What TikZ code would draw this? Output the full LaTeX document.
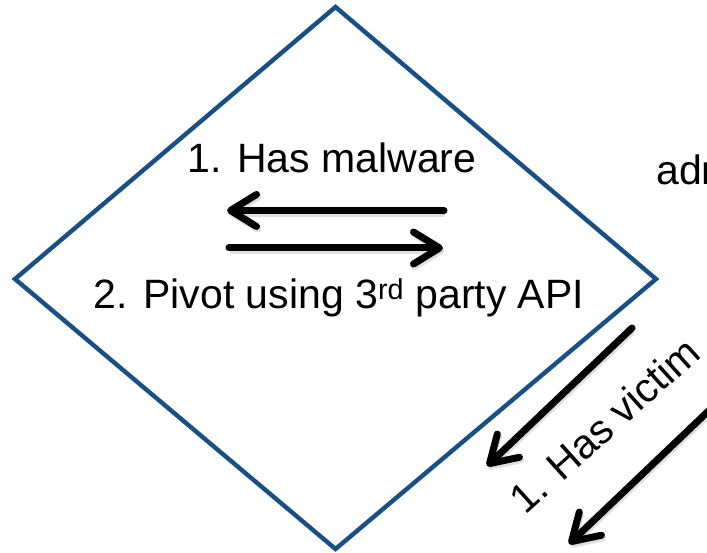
\documentclass[tikz,border=0pt]{standalone}
\usepackage{fontspec}
\setmainfont{Liberation Sans}
\usetikzlibrary{arrows.meta}

\definecolor{edgeblue}{RGB}{23,79,134}

\tikzset{
  frame/.style={draw=edgeblue, line width=4.4pt, line join=miter},
  flow/.style={draw=black, line width=7pt, line cap=round,
    -{Straight Barb[length=26pt, width=32pt, round]},
    preaction={draw=black!35, opacity=0.35, line width=7pt,
      transform canvas={shift={(1.2pt,-2.6pt)}}}},
  label/.style={font=\fontsize{41}{48}\selectfont, inner sep=0pt, text=black}
}

\begin{document}
\begin{tikzpicture}[x=1pt, y=-1pt]
  \useasboundingbox (0,0) rectangle (707,553);
  \clip (0,0) rectangle (707,553);

  % diamond corners
  \coordinate (dT) at (335.5,7);
  \coordinate (dR) at (656,279);
  \coordinate (dB) at (335.5,549);
  \coordinate (dL) at (15,279);
  \draw[frame] (dT) -- (dR) -- (dB) -- (dL) -- cycle;

  % labels inside the diamond
  \node[label, anchor=base] (malware) at (332,173) {1. Has malware};
  \node[label, anchor=base] (pivot) at (339,309) {2. Pivot using 3\textsuperscript{rd} party API};

  % pair of horizontal arrows
  \coordinate (upTail) at (444,210.5);
  \coordinate (upTip) at (227,210.5);
  \coordinate (loTail) at (229,248);
  \coordinate (loTip) at (443,248);
  \draw[flow] (upTail) -- (upTip);
  \draw[flow] (loTail) -- (loTip);

  % text at the right edge
  \node[label, anchor=base west] (adr) at (656,185) {adr};

  % diagonal arrows with their label
  \coordinate (d1Tail) at (632,328);
  \coordinate (d1Tip) at (487,466);
  \coordinate (d2Tail) at (720,400);
  \coordinate (d2Tip) at (569,544);
  \draw[flow] (d1Tail) -- (d1Tip);
  \draw[flow] (d2Tail) -- (d2Tip);
  \node[label, anchor=base, rotate=42] (victim) at (614,436) {1. Has victim};
\end{tikzpicture}
\end{document}
